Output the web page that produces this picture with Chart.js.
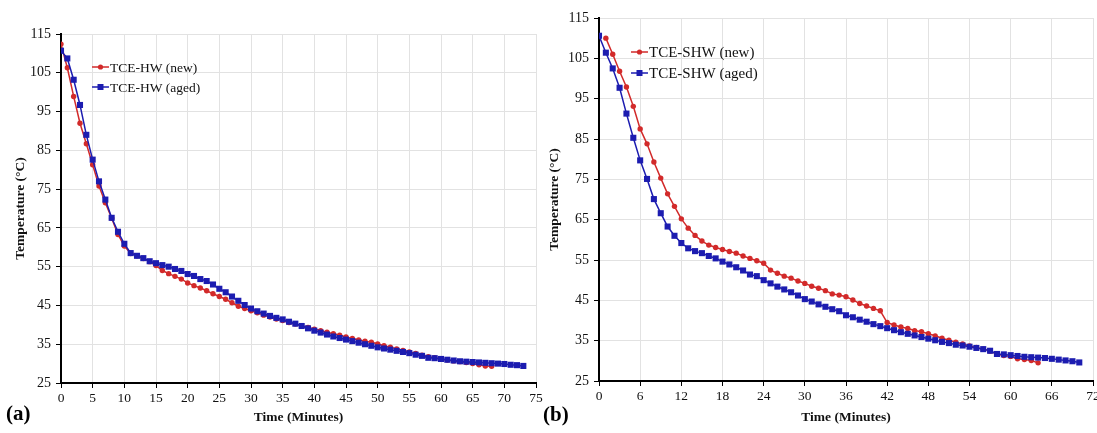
<!DOCTYPE html>
<html>
<head>
<meta charset="utf-8">
<script src="https://cdn.jsdelivr.net/npm/chart.js@4.4.1/dist/chart.umd.min.js"></script>
<style>
  html, body { margin:0; padding:0; background:#fff; width:1097px; height:433px; overflow:hidden; position:relative; }
  canvas { position:absolute; top:0; }
  #c1 { left:0; }
  #c2 { left:545px; }
  .tag { position:absolute; font:bold 21px "Liberation Serif", "Times New Roman", serif; color:#000; }
</style>
</head>
<body>
<canvas id="c1" width="548" height="433"></canvas>
<canvas id="c2" width="560" height="433"></canvas>
<div class="tag" style="left:6px; top:401px;">(a)</div>
<div class="tag" style="left:543px; top:402px;">(b)</div>
<script>
// ---------- DATA (1-minute steps) ----------
const hwNewStart = 0;
const hwNew = [112.4,106.3,98.9,92.0,86.7,81.3,75.8,71.5,67.5,63.3,60.3,58.4,57.8,57.1,56.3,55.3,54.0,53.2,52.5,51.8,50.8,50.1,49.5,48.8,48.0,47.3,46.6,45.7,44.8,44.2,43.6,43.1,42.5,42.0,41.5,41.1,40.6,40.2,39.7,39.3,38.9,38.5,38.1,37.7,37.3,36.9,36.5,36.1,35.8,35.5,35.1,34.6,34.2,33.8,33.4,33.0,32.6,32.2,31.8,31.5,31.2,30.9,30.7,30.5,30.3,30.0,29.7,29.4,29.3];
const hwAgedStart = 0;
const hwAged = [110.7,108.7,103.2,96.7,89.0,82.6,77.0,72.3,67.6,64.0,60.9,58.5,57.8,57.2,56.4,55.9,55.4,55.0,54.4,53.9,53.1,52.6,51.8,51.3,50.4,49.3,48.4,47.3,46.2,45.1,44.2,43.5,42.9,42.3,41.8,41.4,40.8,40.3,39.7,39.1,38.5,38.0,37.5,37.0,36.6,36.2,35.8,35.4,35.0,34.6,34.2,33.9,33.6,33.3,33.0,32.7,32.3,32.0,31.5,31.4,31.2,31.0,30.8,30.6,30.5,30.4,30.3,30.2,30.1,30.0,29.9,29.7,29.6,29.4];

const shwNewStart = 1;
const shwNew = [110.0,106.0,101.8,97.9,93.1,87.5,83.8,79.3,75.3,71.4,68.3,65.2,62.9,61.1,59.7,58.7,58.1,57.6,57.1,56.7,56.0,55.4,54.8,54.2,52.5,51.7,51.0,50.5,49.8,49.2,48.5,48.0,47.4,46.6,46.3,45.9,45.1,44.2,43.6,43.0,42.4,39.5,38.9,38.4,38.0,37.5,37.2,36.7,36.2,35.6,35.1,34.6,34.2,33.7,33.3,32.9,32.4,31.6,31.3,31.1,30.5,30.3,30.1,29.5];
const shwAgedStart = 0;
const shwAged = [110.6,106.4,102.5,97.7,91.3,85.3,79.7,75.1,70.1,66.6,63.3,61.0,59.2,57.9,57.2,56.7,56.0,55.4,54.6,53.9,53.2,52.4,51.4,51.0,50.0,49.2,48.4,47.7,47.0,46.2,45.3,44.7,44.0,43.4,42.8,42.3,41.3,40.8,40.2,39.7,39.1,38.6,38.1,37.6,37.1,36.7,36.3,35.9,35.5,35.1,34.7,34.4,34.0,33.8,33.5,33.2,32.9,32.5,31.7,31.6,31.4,31.2,31.0,30.9,30.8,30.7,30.5,30.3,30.1,29.9,29.6];

const labelsA = ['TCE-HW (new)', 'TCE-HW (aged)'];
const labelsB = ['TCE-SHW (new)', 'TCE-SHW (aged)'];
const xTitle = 'Time (Minutes)';
const yTitle = 'Temperature (°C)';

// ---------- STYLE ----------
const RED = '#d22a2a';
const BLUE = '#1c1cb0';
const GRID = '#e2e2e2';
const FONT = '"Liberation Serif", "Times New Roman", serif';

const toPts = (vals, start) => vals.map((v, i) => ({x: start + i, y: v}));

const legendPlugin = {
  id: 'customLegend',
  afterDraw(chart, args, o) {
    const ctx = chart.ctx;
    ctx.save();
    o.items.forEach(it => {
      ctx.strokeStyle = it.color; ctx.fillStyle = it.color; ctx.lineWidth = 1.5;
      ctx.beginPath(); ctx.moveTo(o.x1, it.y); ctx.lineTo(o.x2, it.y); ctx.stroke();
      const cx = (o.x1 + o.x2) / 2;
      ctx.beginPath();
      if (it.style === 'rect') ctx.rect(cx - 3, it.y - 3, 6, 6);
      else ctx.arc(cx, it.y, 2.6, 0, Math.PI * 2);
      ctx.fill();
      ctx.fillStyle = '#111';
      ctx.font = o.fontSize + 'px ' + FONT;
      ctx.textBaseline = 'middle';
      ctx.textAlign = 'left';
      ctx.fillText(it.text, o.x2 + 1, it.y + 1);
    });
    ctx.restore();
  }
};

function makeChart(id, cfg) {
  return new Chart(document.getElementById(id), {
    type: 'line',
    data: {
      datasets: [
        { label: cfg.labels[0], data: toPts(cfg.newVals, cfg.newStart), borderColor: RED, backgroundColor: RED,
          borderWidth: 1.5, pointStyle: 'circle', pointRadius: 2.7, pointBorderWidth: 0, tension: 0, order: 1 },
        { label: cfg.labels[1], data: toPts(cfg.agedVals, cfg.agedStart), borderColor: BLUE, backgroundColor: BLUE,
          borderWidth: 1.5, pointStyle: 'rect', pointRadius: 4.3, pointBorderWidth: 0, tension: 0, order: 0 }
      ]
    },
    options: {
      responsive: false, animation: false, devicePixelRatio: 1,
      layout: { padding: cfg.padding },
      plugins: {
        legend: { display: false }, tooltip: { enabled: false },
        customLegend: cfg.legend
      },
      scales: {
        x: {
          type: 'linear', min: 0, max: cfg.xMax,
          ticks: { stepSize: cfg.xStep, color: '#111', font: { family: FONT, size: 13.5 }, padding: 2, maxRotation: 0 },
          grid: { color: GRID, tickColor: '#000', tickLength: 5, lineWidth: 1 },
          border: { color: '#000', width: 2 },
          title: { display: true, text: xTitle, color: '#111', font: { family: FONT, size: 13.5, weight: 'bold' }, padding: { top: 0, bottom: 7 } },
          afterFit(s) { s.height = cfg.xH; }
        },
        y: {
          min: 25, max: 115,
          ticks: { stepSize: 10, color: '#111', font: { family: FONT, size: 14 }, padding: 5 },
          grid: { color: GRID, tickColor: '#000', tickLength: 5, lineWidth: 1 },
          border: { color: '#000', width: 2 },
          title: { display: true, text: yTitle, color: '#111', font: { family: FONT, size: 13.5, weight: 'bold' }, padding: { top: cfg.yTitlePad, bottom: 0 } },
          afterFit(s) { s.width = cfg.yW; }
        }
      }
    },
    plugins: [legendPlugin]
  });
}

makeChart('c1', {
  labels: labelsA, newVals: hwNew, newStart: hwNewStart, agedVals: hwAged, agedStart: hwAgedStart,
  xMax: 75, xStep: 5, padding: { left: 0, top: 34, right: 12, bottom: 0 }, xH: 50, yW: 61, yTitlePad: 12,
  legend: { x1: 92, x2: 109, fontSize: 13.5, items: [
    { text: labelsA[0], color: RED, style: 'circle', y: 67 },
    { text: labelsA[1], color: BLUE, style: 'rect', y: 87 } ] }
});

makeChart('c2', {
  labels: labelsB, newVals: shwNew, newStart: shwNewStart, agedVals: shwAged, agedStart: shwAgedStart,
  xMax: 72, xStep: 6, padding: { left: 0, top: 18, right: 12, bottom: 0 }, xH: 52, yW: 54, yTitlePad: 1,
  legend: { x1: 86, x2: 103, fontSize: 15, items: [
    { text: labelsB[0], color: RED, style: 'circle', y: 52 },
    { text: labelsB[1], color: BLUE, style: 'rect', y: 73 } ] }
});
</script>
</body>
</html>
